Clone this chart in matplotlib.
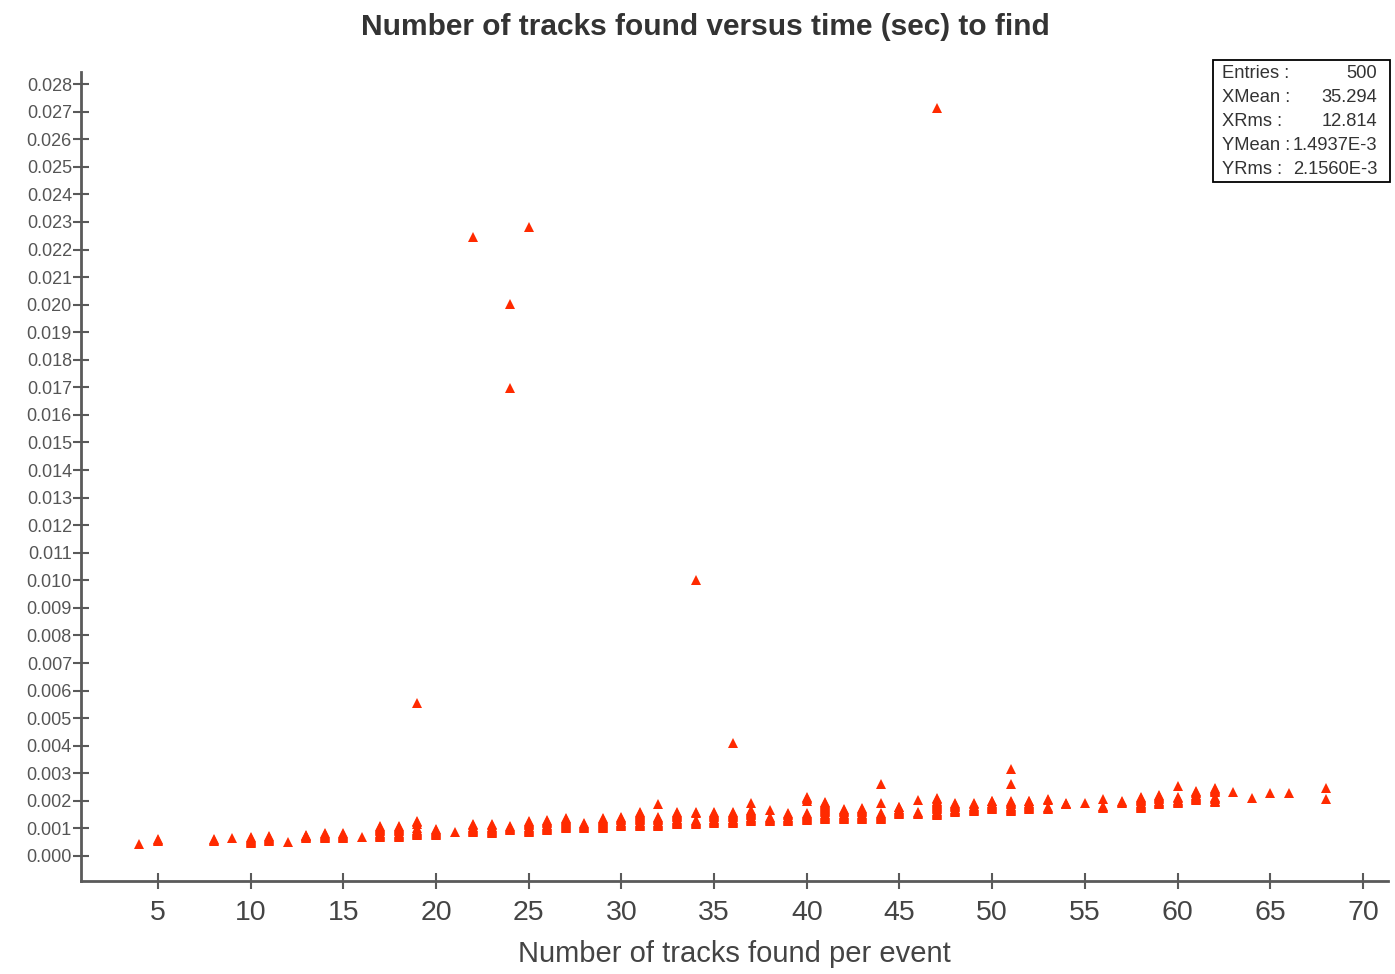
import matplotlib
matplotlib.use("Agg")
import matplotlib.pyplot as plt

plt.rcParams["font.family"] = ["Liberation Sans", "DejaVu Sans"]

# Number of tracks found per event, and the times (in ms) measured for those events
n_tracks = [4, 5, 8, 9, 10, 11, 12, 13, 14, 15, 16, 17, 18, 19, 20, 21, 22, 23, 24, 25,
            26, 27, 28, 29, 30, 31, 32, 33, 34, 35, 36, 37, 38, 39, 40, 41, 42, 43, 44,
            45, 46, 47, 48, 49, 50, 51, 52, 53, 54, 55, 56, 57, 58, 59, 60, 61, 62, 63,
            64, 65, 66, 68]
times_ms = [
    [0.43],
    [0.55, 0.58, 0.60],
    [0.55, 0.58, 0.60],
    [0.65],
    [0.47, 0.51, 0.55, 0.59, 0.63, 0.67, 0.69],
    [0.54, 0.58, 0.62, 0.66, 0.70, 0.72],
    [0.51],
    [0.65, 0.68, 0.71, 0.74, 0.76],
    [0.65, 0.69, 0.73, 0.77, 0.80, 0.83],
    [0.65, 0.69, 0.73, 0.77, 0.80, 0.83],
    [0.69],
    [0.69, 0.73, 0.77, 0.81, 0.85, 0.89, 0.93, 0.97, 1.01, 1.05, 1.09],
    [0.69, 0.73, 0.77, 0.81, 0.85, 0.89, 0.93, 0.97, 1.01, 1.05, 1.09],
    [0.76, 0.80, 0.84, 0.88, 0.92, 0.96, 1.00, 1.16, 1.22, 1.27, 5.55],
    [0.76, 0.80, 0.84, 0.88, 0.92, 0.96, 0.98],
    [0.87],
    [0.87, 0.91, 0.95, 0.99, 1.03, 1.07, 1.11, 1.16, 22.45],
    [0.83, 0.87, 0.91, 0.95, 0.99, 1.03, 1.07, 1.11, 1.16],
    [0.94, 0.98, 1.02, 1.06, 1.09, 16.97, 20.02],
    [0.87, 0.91, 0.95, 0.99, 1.03, 1.07, 1.11, 1.15, 1.19, 1.23, 1.27, 22.81],
    [0.94, 0.98, 1.02, 1.06, 1.10, 1.14, 1.18, 1.22, 1.26, 1.30],
    [1.00, 1.04, 1.08, 1.12, 1.16, 1.20, 1.24, 1.28, 1.32, 1.36, 1.38],
    [1.00, 1.04, 1.08, 1.12, 1.16, 1.20],
    [1.00, 1.04, 1.08, 1.12, 1.16, 1.20, 1.24, 1.28, 1.32, 1.36, 1.38],
    [1.09, 1.13, 1.17, 1.21, 1.25, 1.29, 1.33, 1.37, 1.41],
    [1.09, 1.13, 1.17, 1.21, 1.25, 1.29, 1.33, 1.37, 1.41, 1.45, 1.49, 1.53, 1.57, 1.60],
    [1.09, 1.13, 1.17, 1.21, 1.25, 1.29, 1.33, 1.37, 1.41, 1.89],
    [1.16, 1.20, 1.24, 1.28, 1.32, 1.36, 1.40, 1.44, 1.48, 1.52, 1.56, 1.60],
    [1.16, 1.20, 1.24, 1.28, 1.30, 1.56, 1.60, 10.01],
    [1.20, 1.24, 1.28, 1.32, 1.36, 1.40, 1.44, 1.48, 1.52, 1.56, 1.60],
    [1.20, 1.24, 1.28, 1.32, 1.36, 1.40, 1.44, 1.48, 1.52, 1.56, 1.60, 4.10],
    [1.27, 1.31, 1.35, 1.39, 1.43, 1.47, 1.51, 1.55, 1.59, 1.63, 1.67, 1.92],
    [1.27, 1.31, 1.35, 1.39, 1.41, 1.67],
    [1.27, 1.31, 1.35, 1.39, 1.43, 1.47, 1.51, 1.56],
    [1.30, 1.34, 1.38, 1.42, 1.46, 1.50, 1.54, 1.56, 2.00, 2.05, 2.10, 2.14],
    [1.34, 1.38, 1.42, 1.46, 1.50, 1.54, 1.58, 1.62, 1.66, 1.70, 1.74, 1.78, 1.82,
     1.86, 1.90, 1.94, 1.96],
    [1.34, 1.38, 1.42, 1.46, 1.50, 1.54, 1.58, 1.62, 1.66, 1.70],
    [1.34, 1.38, 1.42, 1.46, 1.50, 1.54, 1.58, 1.62, 1.66, 1.70, 1.74],
    [1.34, 1.38, 1.42, 1.46, 1.50, 1.54, 1.56, 1.92, 2.61],
    [1.52, 1.56, 1.60, 1.64, 1.68, 1.72, 1.76, 1.78],
    [1.52, 1.56, 1.60, 2.03],
    [1.49, 1.53, 1.57, 1.61, 1.65, 1.69, 1.73, 1.77, 1.81, 1.85, 1.89, 1.93, 1.97,
     2.01, 2.05, 2.10, 27.13],
    [1.60, 1.64, 1.68, 1.72, 1.76, 1.80, 1.84, 1.88, 1.92],
    [1.63, 1.67, 1.71, 1.75, 1.79, 1.83, 1.87, 1.92],
    [1.70, 1.74, 1.78, 1.82, 1.86, 1.90, 1.94, 1.98, 2.00],
    [1.63, 1.67, 1.71, 1.75, 1.79, 1.83, 1.87, 1.91, 1.95, 2.00, 2.61, 3.16],
    [1.70, 1.74, 1.78, 1.82, 1.86, 1.90, 1.94, 1.98, 2.00],
    [1.70, 1.74, 1.78, 2.03, 2.07],
    [1.88, 1.90, 1.92],
    [1.92],
    [1.74, 1.78, 1.81, 2.07],
    [1.92, 1.96, 2.00],
    [1.74, 1.78, 1.82, 1.86, 1.90, 1.94, 1.98, 2.02, 2.06, 2.10, 2.14],
    [1.89, 1.93, 1.97, 2.01, 2.05, 2.09, 2.13, 2.17, 2.21],
    [1.92, 1.96, 2.00, 2.03, 2.10, 2.14, 2.54],
    [2.03, 2.07, 2.11, 2.15, 2.19, 2.23, 2.27, 2.31, 2.36],
    [1.96, 2.00, 2.05, 2.10, 2.14, 2.32, 2.36, 2.40, 2.44, 2.47],
    [2.32],
    [2.10],
    [2.28],
    [2.28],
    [2.07, 2.47],
]

y_ticks = [i / 1000 for i in range(0, 29)]
x_ticks = list(range(5, 75, 5))

stats_labels = ["Entries :", "XMean :", "XRms :", "YMean :", "YRms :"]
stats_values = ["500", "35.294", "12.814", "1.4937E-3", "2.1560E-3"]

xs, ys = [], []
for n, tl in zip(n_tracks, times_ms):
    for t in tl:
        xs.append(n)
        ys.append(t / 1000.0)

W, H = 1395, 974
fig = plt.figure(figsize=(W / 100, H / 100), dpi=100)
ax = fig.add_axes([81 / W, 1 - 881 / H, (1388 - 81) / W, (881 - 72) / H])

ax.plot(xs, ys, linestyle="none", marker="^", markersize=7,
        color="#ff2a00", markeredgewidth=0)

ax.set_xlim(0.85, 71.35)
ax.set_ylim(-0.000907, 0.02844)

axis_col = "#5a5a5a"
for side in ("top", "right"):
    ax.spines[side].set_visible(False)
for side in ("left", "bottom"):
    ax.spines[side].set_color(axis_col)
    ax.spines[side].set_linewidth(2)

ax.set_yticks(y_ticks)
ax.set_yticklabels([f"{v:.3f}" for v in y_ticks])
ax.set_xticks(x_ticks)
ax.set_xticklabels([str(v) for v in x_ticks])
ax.tick_params(axis="y", direction="inout", length=11, width=1.5, color=axis_col,
               labelsize=13, labelcolor="#555555", pad=1)
ax.tick_params(axis="x", direction="inout", length=11, width=1.5, color=axis_col,
               labelsize=20.5, labelcolor="#444444", pad=8)

ax.set_xlabel("Number of tracks found per event", fontsize=21, color="#444444",
              labelpad=10)

fig.text(705 / W, 1 - 27 / H, "Number of tracks found versus time (sec) to find",
         ha="center", va="center", fontsize=21.5, fontweight="bold", color="#333333")

# statistics box
bx0, by0, bx1, by1 = 1213, 60, 1390, 182
box = plt.Rectangle((bx0 / W, 1 - by1 / H), (bx1 - bx0) / W, (by1 - by0) / H,
                    transform=fig.transFigure, fill=True, facecolor="white",
                    edgecolor="black", linewidth=1.3)
fig.add_artist(box)
for i, (lab, val) in enumerate(zip(stats_labels, stats_values)):
    yy = 1 - (73 + 24 * i) / H
    fig.text(1222 / W, yy, lab, ha="left", va="center", fontsize=13.2, color="#333333")
    fig.text(1377 / W, yy, val, ha="right", va="center", fontsize=13.2, color="#333333")

fig.savefig("out.png", dpi=100, facecolor="white")
